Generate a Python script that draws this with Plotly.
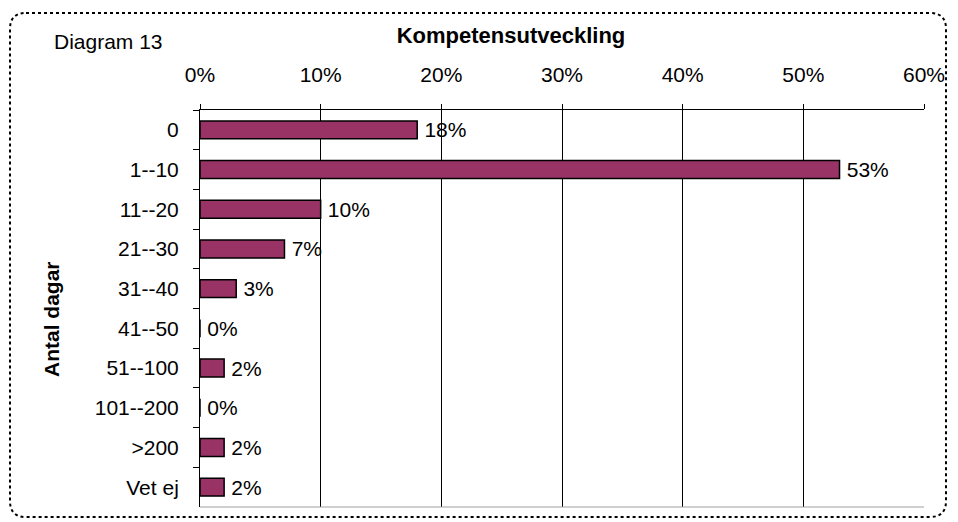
import plotly.graph_objects as go

categories = ["0", "1--10", "11--20", "21--30", "31--40", "41--50",
              "51--100", "101--200", ">200", "Vet ej"]
values = [18, 53, 10, 7, 3, 0, 2, 0, 2, 2]
labels = [f"{v}%" for v in values]
tick_vals = [0, 10, 20, 30, 40, 50, 60]
tick_text = [f"{t}%" for t in tick_vals]

FONT = "Liberation Sans, Arial, sans-serif"
W, H = 958, 522
L, R, T, B = 200, 924, 110, 507  # plot area in pixels


def px2paper(x, y):
    return (x - L) / (R - L), (B - y) / (B - T)


def rounded_rect(x0, y0, x1, y1, r):
    def p(x, y):
        a, b = px2paper(x, y)
        return f"{a:.5f},{b:.5f}"
    return (f"M {p(x0 + r, y0)} L {p(x1 - r, y0)} Q {p(x1, y0)} {p(x1, y0 + r)} "
            f"L {p(x1, y1 - r)} Q {p(x1, y1)} {p(x1 - r, y1)} "
            f"L {p(x0 + r, y1)} Q {p(x0, y1)} {p(x0, y1 - r)} "
            f"L {p(x0, y0 + r)} Q {p(x0, y0)} {p(x0 + r, y0)} Z")


fig = go.Figure(go.Bar(
    x=values, y=categories, orientation="h",
    marker=dict(color="#993366", line=dict(color="black", width=1.5)),
    text=labels, texttemplate="\u2009%{text}", textposition="outside",
    cliponaxis=False, constraintext="none",
    textfont=dict(family=FONT, size=21, color="black"),
))

fig.update_layout(
    width=W, height=H,
    margin=dict(l=L, r=W - R, t=T, b=H - B),
    paper_bgcolor="white", plot_bgcolor="white",
    bargap=0.55, showlegend=False,
    font=dict(family=FONT, size=21, color="black"),
    title=dict(text="<b>Kompetensutveckling</b>", x=511 / W, xanchor="center",
               y=1 - 35 / H, yanchor="middle", font=dict(size=22)),
    shapes=[
        dict(type="path", xref="paper", yref="paper",
             path=rounded_rect(10, 13, 946, 517, 16),
             line=dict(color="black", width=2, dash="dot")),
        dict(type="line", xref="paper", yref="paper", x0=0, x1=1, y0=0, y1=0,
             line=dict(color="#a0a0a0", width=1)),
    ],
    annotations=[
        dict(text="Diagram 13", xref="paper", yref="paper",
             x=px2paper(52, 0)[0], y=px2paper(0, 41)[1],
             xanchor="left", yanchor="middle", showarrow=False,
             font=dict(size=21)),
        dict(text="<b>Antal dagar</b>", xref="paper", yref="paper",
             x=px2paper(51, 0)[0], y=px2paper(0, 319)[1],
             xanchor="center", yanchor="middle", showarrow=False,
             textangle=-90, font=dict(size=21)),
    ],
)

fig.update_xaxes(
    side="top", range=[0, 60], tickvals=tick_vals, ticktext=tick_text,
    showgrid=True, gridcolor="black", gridwidth=1,
    showline=True, linecolor="black", linewidth=1,
    ticks="outside", ticklen=5, tickcolor="black",
    zeroline=False, tickfont=dict(size=21), ticklabelstandoff=14,
)
fig.update_yaxes(
    autorange="reversed", showline=True, linecolor="black", linewidth=1,
    ticks="outside", ticklen=6, tickcolor="black", tickson="boundaries",
    showgrid=False, tickfont=dict(size=21), ticklabelstandoff=16,
)

fig.write_html("out.html", config={"displayModeBar": False},
               post_script="document.body.style.margin='0';")
